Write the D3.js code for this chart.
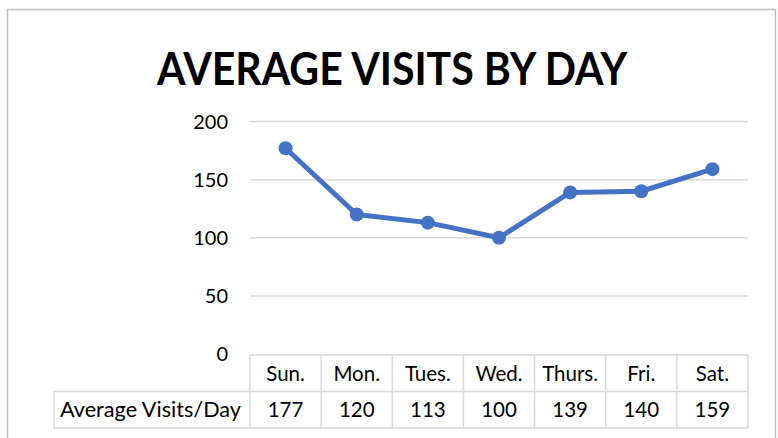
<!DOCTYPE html>
<html>
<head>
<meta charset="utf-8">
<script src="https://cdn.jsdelivr.net/npm/d3@7"></script>
<style>
body { margin: 0; background: #fff; }
svg text { font-family: Lato, "Open Sans", sans-serif; fill: #000; }
</style>
</head>
<body>
<div id="chart"></div>
<script>
var days = ['Sun.', 'Mon.', 'Tues.', 'Wed.', 'Thurs.', 'Fri.', 'Sat.'];
var visits = [177, 120, 113, 100, 139, 140, 159];
var yTicks = [0, 50, 100, 150, 200];
var seriesName = 'Average Visits/Day';
var title = 'AVERAGE VISITS BY DAY';

var w = 778,
	h = 438;

var svg = d3.select('#chart').append('svg')
	.attr('width', w)
	.attr('height', h);

// chart frame
svg.append('rect')
	.attr('x', 7.5)
	.attr('y', 9.5)
	.attr('width', 768)
	.attr('height', 440)
	.attr('fill', '#fff')
	.attr('stroke', '#bfbfbf')
	.attr('stroke-width', 1.5);

svg.append('text')
	.attr('x', 392)
	.attr('y', 85)
	.attr('text-anchor', 'middle')
	.attr('font-size', 45)
	.attr('font-weight', 'bold')
	.attr('textLength', 470)
	.attr('lengthAdjust', 'spacingAndGlyphs')
	.text(title);

var x = d3.scaleBand().domain(days).range([250, 748]);
var y = d3.scaleLinear().domain([0, 200]).range([354, 121.5]);

// gridlines
svg.selectAll('.grid')
	.data(yTicks.filter(function(d){ return d > 0; }))
	.enter().append('line')
		.attr('class', 'grid')
		.attr('x1', x.range()[0])
		.attr('x2', x.range()[1])
		.attr('y1', function(d){ return y(d); })
		.attr('y2', function(d){ return y(d); })
		.attr('stroke', '#d9d9d9')
		.attr('stroke-width', 1.5);

// y labels
svg.selectAll('.ylab')
	.data(yTicks)
	.enter().append('text')
		.attr('class', 'ylab')
		.attr('x', 228)
		.attr('y', function(d){ return y(d); })
		.attr('dy', '0.35em')
		.attr('text-anchor', 'end')
		.attr('font-size', 20)
		.text(function(d){ return d; });

// data table
var rowTop = 355,
	rowMid = 391.5,
	rowBot = 428,
	labelLeft = 54;

var tbl = svg.append('g')
	.attr('stroke', '#d9d9d9')
	.attr('stroke-width', 1.5);
tbl.append('line').attr('x1', x.range()[0]).attr('x2', x.range()[1]).attr('y1', rowTop).attr('y2', rowTop);
tbl.append('line').attr('x1', labelLeft).attr('x2', x.range()[1]).attr('y1', rowMid).attr('y2', rowMid);
tbl.append('line').attr('x1', labelLeft).attr('x2', x.range()[1]).attr('y1', rowBot).attr('y2', rowBot);
tbl.append('line').attr('x1', labelLeft).attr('x2', labelLeft).attr('y1', rowMid).attr('y2', rowBot);
tbl.selectAll('.vline')
	.data(days.concat(['end']))
	.enter().append('line')
		.attr('x1', function(d, i){ return x.range()[0] + i * x.bandwidth(); })
		.attr('x2', function(d, i){ return x.range()[0] + i * x.bandwidth(); })
		.attr('y1', rowTop)
		.attr('y2', rowBot);

svg.selectAll('.dayLab')
	.data(days)
	.enter().append('text')
		.attr('x', function(d){ return x(d) + x.bandwidth() / 2; })
		.attr('y', (rowTop + rowMid) / 2 + 1)
		.attr('dy', '0.35em')
		.attr('text-anchor', 'middle')
		.attr('font-size', 20.5)
		.text(function(d){ return d; });

svg.selectAll('.valLab')
	.data(visits)
	.enter().append('text')
		.attr('x', function(d, i){ return x(days[i]) + x.bandwidth() / 2; })
		.attr('y', (rowMid + rowBot) / 2)
		.attr('dy', '0.35em')
		.attr('text-anchor', 'middle')
		.attr('font-size', 20.5)
		.text(function(d){ return d; });

svg.append('text')
	.attr('x', 60)
	.attr('y', (rowMid + rowBot) / 2)
	.attr('dy', '0.35em')
	.attr('font-size', 20.5)
	.attr('textLength', 181)
	.attr('lengthAdjust', 'spacingAndGlyphs')
	.text(seriesName);

// line series
var line = d3.line()
	.x(function(d, i){ return x(days[i]) + x.bandwidth() / 2; })
	.y(function(d){ return y(d); });

svg.append('path')
	.datum(visits)
	.attr('d', line)
	.attr('fill', 'none')
	.attr('stroke', '#4472c4')
	.attr('stroke-width', 5)
	.attr('stroke-linejoin', 'round');

svg.selectAll('.dot')
	.data(visits)
	.enter().append('circle')
		.attr('class', 'dot')
		.attr('cx', function(d, i){ return x(days[i]) + x.bandwidth() / 2; })
		.attr('cy', function(d){ return y(d); })
		.attr('r', 7)
		.attr('fill', '#4472c4');
</script>
</body>
</html>
